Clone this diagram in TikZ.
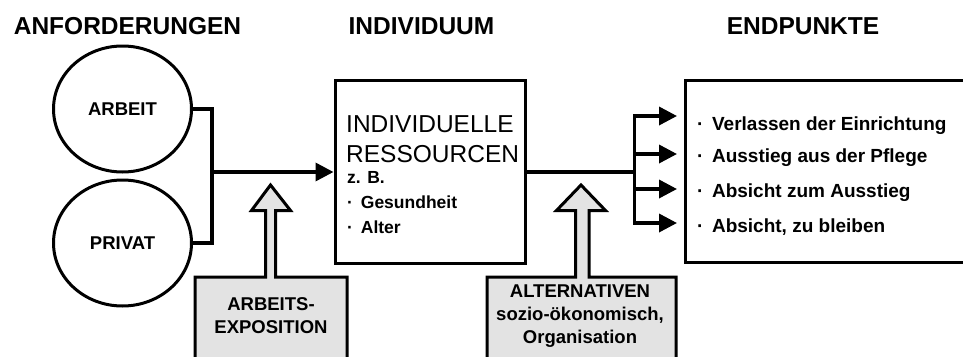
\documentclass[tikz,border=0pt]{standalone}
\usepackage{fontspec}
\setmainfont{Liberation Sans}
\usepackage{tikz}
\usetikzlibrary{arrows.meta,shapes.geometric}
\definecolor{blockgray}{gray}{0.89}
\newcommand{\itemdot}{·\hspace{0.45em}}
\tikzset{
	head/.style={anchor=base,inner sep=0pt,font=\fontsize{24.5}{28}\selectfont\bfseries},
	demand/.style={draw,ellipse,line width=3pt,minimum width=138pt,minimum height=126pt,inner sep=0pt,font=\fontsize{18.5}{22}\selectfont\bfseries},
	frame/.style={draw,line width=3pt,inner sep=0pt},
	big/.style={anchor=base west,inner sep=0pt,font=\fontsize{24.5}{28}\selectfont},
	small/.style={anchor=base west,inner sep=0pt,font=\fontsize{17.5}{21}\selectfont\bfseries},
	item/.style={anchor=base west,inner sep=0pt,font=\fontsize{19}{23}\selectfont\bfseries},
	block/.style={draw,fill=blockgray,line width=3pt},
	blocktext/.style={align=center,inner sep=0pt,font=\fontsize{18.5}{23}\selectfont\bfseries},
	wire/.style={draw,line width=3.5pt,>={Triangle[length=18pt,width=18pt]}}
}

\begin{document}
\begin{tikzpicture}[x=1pt,y=-1pt]
	\path[use as bounding box] (0,0) rectangle (963,356);
	\clip (0,0) rectangle (963,356);
	%
	\node[head] (hdemand) at (127.5,34) {ANFORDERUNGEN};
	\node[head] (hindiv) at (421.5,34) {INDIVIDUUM};
	\node[head] (hend) at (803,34) {ENDPUNKTE};
	%
	\node[demand] (arbeit) at (122.5,109) {ARBEIT};
	\node[demand] (privat) at (122.5,243) {PRIVAT};
	%
	\node[frame,minimum width=190pt,minimum height=183pt] (res) at (430,171.5) {};
	\node[big] (resa) at (346,132) {INDIVIDUELLE};
	\node[big] (resb) at (346,162) {RESSOURCEN};
	\node[small] (resc) at (347,183) {z. B.};
	\node[small] (resd) at (347,208) {\itemdot Gesundheit};
	\node[small] (rese) at (347,233) {\itemdot Alter};
	%
	\node[frame,minimum width=300pt,minimum height=182.5pt] (ends) at (835.5,171.25) {};
	\node[item] (v1) at (697,130) {\itemdot Verlassen der Einrichtung};
	\node[item] (v2) at (697,162) {\itemdot Ausstieg aus der Pflege};
	\node[item] (v3) at (697,197) {\itemdot Absicht zum Ausstieg};
	\node[item] (v4) at (697,232) {\itemdot Absicht, zu bleiben};
	%
	\coordinate (join) at (212,172);
	\coordinate (fork) at (634.5,172);
	\foreach \y [count=\i] in {116,154,189,223}
		\coordinate (e\i) at (677,\y);
	%
	\draw[wire] (arbeit.east) -| (join) |- (privat.east);
	\draw[wire,->] (join) -- (res.west |- join);
	\draw[wire] (res.east |- fork) -- (fork);
	\draw[wire,->] (fork) |- (e1);
	\draw[wire,->] (fork) |- (e4);
	\draw[wire,->] (fork |- e2) -- (e2);
	\draw[wire,->] (fork |- e3) -- (e3);
	%
	\draw[block] (195,380) -- (195,277) -- (265.5,277) -- (265.5,210.5) -- (251.5,210.5)
		-- (270.5,185) -- (290.5,210.5) -- (275.5,210.5) -- (275.5,277) -- (347,277) -- (347,380);
	\node[blocktext] (expo) at (271,316) {ARBEITS-\\EXPOSITION};
	%
	\draw[block] (487,380) -- (487,277) -- (575.5,277) -- (575.5,210.5) -- (556.5,210.5)
		-- (581,185) -- (605.5,210.5) -- (589,210.5) -- (589,277) -- (676,277) -- (676,380);
	\node[blocktext] (alt) at (580,316) {ALTERNATIVEN\\sozio-ökonomisch,\\Organisation};
\end{tikzpicture}
\end{document}
